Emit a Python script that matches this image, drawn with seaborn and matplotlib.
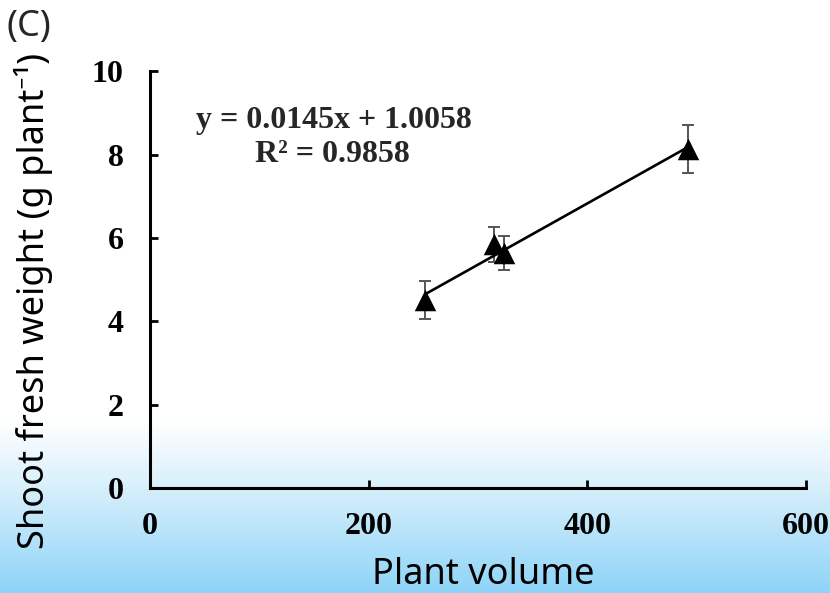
import numpy as np
import pandas as pd
import matplotlib
matplotlib.use("Agg")
import matplotlib.pyplot as plt
import seaborn as sns
from matplotlib.colors import LinearSegmentedColormap

# ---- data ----
plant_volume = [252, 315, 324, 492]
shoot_fw = [4.51, 5.85, 5.63, 8.13]
shoot_err = [0.45, 0.42, 0.41, 0.57]
x_ticks = [0, 200, 400, 600]
y_ticks = [0, 2, 4, 6, 8, 10]
eq_text = "y = 0.0145x + 1.0058"
r2_text = "R² = 0.9858"
panel_label = "(C)"
x_label = "Plant volume"
y_label = "Shoot fresh weight (g plant⁻¹)"

df = pd.DataFrame({"vol": plant_volume, "fw": shoot_fw, "err": shoot_err})

sns.set_theme(style="white")
plt.rcParams['font.family'] = ['DejaVu Sans']

fig = plt.figure(figsize=(8.3, 5.93), dpi=100)

# background gradient (white top -> light blue bottom)
bg = fig.add_axes([0, 0, 1, 1], zorder=-10)
cmap = LinearSegmentedColormap.from_list(
    "bg", [(0.0, "#ffffff"), (0.71, "#ffffff"), (0.82, "#d9f0fb"), (1.0, "#8fd4f8")])
grad = np.linspace(0, 1, 400).reshape(-1, 1)
bg.imshow(grad, aspect="auto", cmap=cmap, extent=[0, 1, 0, 1], origin="upper")
bg.set_axis_off()

ax = fig.add_axes([0.1807, 0.177, 0.7903, 0.703])
ax.patch.set_alpha(0)

ax.errorbar(df["vol"], df["fw"], yerr=df["err"], fmt="none", ecolor="#555555",
            elinewidth=1.4, capsize=4.3, capthick=1.4, zorder=2)
sns.scatterplot(data=df, x="vol", y="fw", marker="^", s=240, color="black",
                edgecolor="black", linewidth=0, ax=ax, zorder=3)
sns.regplot(data=df, x="vol", y="fw", ci=None, scatter=False, ax=ax,
            line_kws={"color": "black", "lw": 1.9, "zorder": 4})

ax.set_xlim(0, 600)
ax.set_ylim(0, 10)
ax.set_xticks(x_ticks)
ax.set_yticks(y_ticks)
ax.set_xticklabels([str(t) for t in x_ticks])
ax.set_yticklabels([str(t) for t in y_ticks])
for lab in ax.get_xticklabels() + ax.get_yticklabels():
    lab.set_family("Liberation Serif")
    lab.set_fontweight("bold")
    lab.set_fontsize(23)
    lab.set_color("black")
ax.tick_params(axis="both", direction="in", length=6, width=2, color="black",
               left=True, bottom=True)
ax.tick_params(axis="x", pad=17)
ax.tick_params(axis="y", pad=19)
for s in ["top", "right"]:
    ax.spines[s].set_visible(False)
for s in ["left", "bottom"]:
    ax.spines[s].set_color("black")
    ax.spines[s].set_linewidth(2.2)

ax.set_xlabel(x_label, family="Noto Sans", fontsize=26, color="black")
ax.set_ylabel(y_label, family="Noto Sans", fontsize=26, color="black")
ax.xaxis.set_label_coords(0.508, -0.166)
ax.yaxis.set_label_coords(-0.148, 0.448)

ax.text(0.28, 0.882, eq_text, transform=ax.transAxes, ha="center", va="center",
        family="Liberation Serif", fontweight="bold", fontsize=23)
ax.text(0.278, 0.799, r2_text, transform=ax.transAxes, ha="center", va="center",
        family="Liberation Serif", fontweight="bold", fontsize=23)

fig.text(0.008, 0.955, panel_label, family="Noto Sans", fontsize=26, va="center", ha="left")

fig.savefig("out.png", dpi=100)
